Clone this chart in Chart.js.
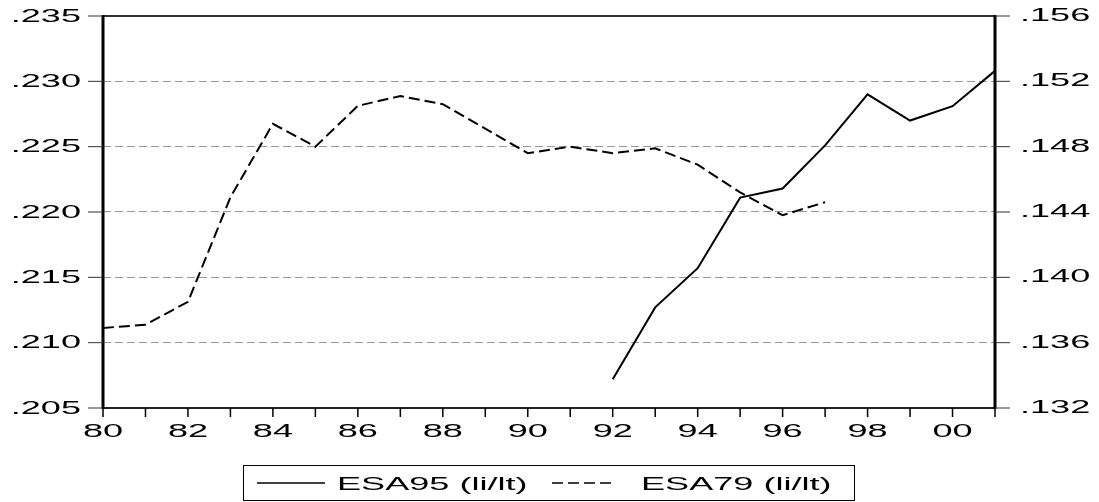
<!DOCTYPE html>
<html lang="en">

<head>
    <meta charset="UTF-8">
    <title>ESA95 vs ESA79 (li/lt)</title>
    <script src="https://cdn.jsdelivr.net/npm/chart.js@4.4.1/dist/chart.umd.min.js"></script>
    <style>
        body {
            margin: 0;
            background-color: #fff;
        }

        .chart-box {
            position: relative;
            width: 1099px;
            height: 502px;
        }
    </style>
</head>

<body>
    <div class="chart-box">
        <canvas id="ratioChart"></canvas>
    </div>

    <script>
        // data
        const years = ['1980', '1981', '1982', '1983', '1984', '1985', '1986', '1987', '1988', '1989', '1990',
            '1991', '1992', '1993', '1994', '1995', '1996', '1997', '1998', '1999', '2000', '2001'];
        const yearTickLabels = ['80', '', '82', '', '84', '', '86', '', '88', '', '90',
            '', '92', '', '94', '', '96', '', '98', '', '00', ''];

        // ESA95 on the left axis
        const esa95 = [null, null, null, null, null, null, null, null, null, null, null,
            null, .2072, .2127, .2157, .2211, .2218, .2251, .2290, .2270, .2281, .2308];
        // ESA79 on the right axis
        const esa79 = [.1369, .1371, .1385, .1449, .1494, .1480, .1505, .1511, .1506, .1491, .1476,
            .1480, .1476, .1479, .1469, .1452, .1438, .1446, null, null, null, null];

        const leftTicks = [.205, .210, .215, .220, .225, .230, .235];
        const leftTickLabels = ['.205', '.210', '.215', '.220', '.225', '.230', '.235'];
        const rightTicks = [.132, .136, .140, .144, .148, .152, .156];
        const rightTickLabels = ['.132', '.136', '.140', '.144', '.148', '.152', '.156'];

        const seriesNames = ['ESA95 (li/lt)', 'ESA79 (li/lt)'];

        // the original graph has horizontally stretched text
        const TEXT_STRETCH = 1.9;
        const FONT = '19px "Liberation Sans", Arial, sans-serif';

        function wideText(ctx, str, x, y, align) {
            ctx.save();
            ctx.translate(x, y);
            ctx.scale(TEXT_STRETCH, 1);
            ctx.textAlign = align;
            ctx.textBaseline = 'alphabetic';
            ctx.fillText(str, 0, 0);
            ctx.restore();
        }

        function line(ctx, x1, y1, x2, y2, width, color, dash) {
            ctx.save();
            ctx.lineWidth = width;
            ctx.strokeStyle = color;
            ctx.setLineDash(dash || []);
            ctx.beginPath();
            ctx.moveTo(x1, y1);
            ctx.lineTo(x2, y2);
            ctx.stroke();
            ctx.restore();
        }

        // frame, tick marks, tick labels and legend
        const framePlugin = {
            id: 'eviewsFrame',
            afterDraw(chart) {
                const ctx = chart.ctx;
                const area = chart.chartArea;
                const xs = chart.scales.x;
                const yl = chart.scales.y;
                const yr = chart.scales.y1;

                ctx.save();
                ctx.font = FONT;
                ctx.fillStyle = '#000';

                // frame
                line(ctx, area.left, area.top, area.right, area.top, 2, '#333');
                line(ctx, area.left, area.bottom, area.right, area.bottom, 2, '#222');
                line(ctx, area.left, area.top - 1, area.left, area.bottom + 1, 3, '#000');
                line(ctx, area.right, area.top - 1, area.right, area.bottom + 1, 3, '#000');

                // x ticks
                years.forEach((yr, i) => {
                    const x = xs.getPixelForValue(i);
                    line(ctx, x, area.bottom, x, area.bottom + 9, 1.5, '#000');
                    if (yearTickLabels[i]) {
                        wideText(ctx, yearTickLabels[i], x, area.bottom + 29, 'center');
                    }
                });

                // left ticks
                leftTicks.forEach((v, i) => {
                    const y = yl.getPixelForValue(v);
                    line(ctx, area.left - 15, y, area.left, y, 1, '#333');
                    wideText(ctx, leftTickLabels[i], 81, y + 5.5, 'right');
                });

                // right ticks
                rightTicks.forEach((v, i) => {
                    const y = yr.getPixelForValue(v);
                    line(ctx, area.right, y, area.right + 15, y, 1, '#333');
                    wideText(ctx, rightTickLabels[i], 1020, y + 5, 'left');
                });

                // legend
                ctx.lineWidth = 1;
                ctx.strokeStyle = '#000';
                ctx.strokeRect(243.5, 465.5, 611, 35);
                const ds = chart.data.datasets;
                line(ctx, 257, 483, 325, 483, 1.5, '#000', ds[0].borderDash);
                wideText(ctx, ds[0].label, 337, 490, 'left');
                line(ctx, 552, 483, 611, 483, 1.5, '#000', [11, 5]);
                wideText(ctx, ds[1].label, 641, 490, 'left');

                ctx.restore();
            }
        };

        const ctx1 = document.getElementById('ratioChart').getContext('2d');
        const ratioChart = new Chart(ctx1, {
            type: 'line',
            data: {
                labels: years,
                datasets: [{
                    label: seriesNames[0],
                    data: esa95,
                    yAxisID: 'y',
                    borderColor: '#000',
                    borderWidth: 2,
                    borderDash: [],
                    pointRadius: 0,
                    tension: 0,
                    spanGaps: false
                }, {
                    label: seriesNames[1],
                    data: esa79,
                    yAxisID: 'y1',
                    borderColor: '#000',
                    borderWidth: 2,
                    borderDash: [11, 5],
                    pointRadius: 0,
                    tension: 0,
                    spanGaps: false
                }]
            },
            options: {
                responsive: true,
                maintainAspectRatio: false,
                animation: false,
                layout: {
                    padding: { top: 16, left: 0, right: 0, bottom: 0 }
                },
                plugins: {
                    legend: { display: false },
                    tooltip: { enabled: false }
                },
                scales: {
                    x: {
                        offset: false,
                        grid: { display: false, drawTicks: false },
                        border: { display: false },
                        ticks: { display: false },
                        afterFit: s => { s.height = 94; }
                    },
                    y: {
                        position: 'left',
                        min: leftTicks[0],
                        max: leftTicks[leftTicks.length - 1],
                        afterBuildTicks: s => { s.ticks = leftTicks.map(v => ({ value: v })); },
                        grid: { color: '#999', lineWidth: 1, drawTicks: false },
                        border: { display: false, dash: [8, 4] },
                        ticks: { display: false },
                        afterFit: s => { s.width = 103; }
                    },
                    y1: {
                        position: 'right',
                        min: rightTicks[0],
                        max: rightTicks[rightTicks.length - 1],
                        afterBuildTicks: s => { s.ticks = rightTicks.map(v => ({ value: v })); },
                        grid: { display: false, drawTicks: false },
                        border: { display: false },
                        ticks: { display: false },
                        afterFit: s => { s.height = s.height; s.width = 104; }
                    }
                }
            },
            plugins: [framePlugin]
        });
    </script>
</body>

</html>
